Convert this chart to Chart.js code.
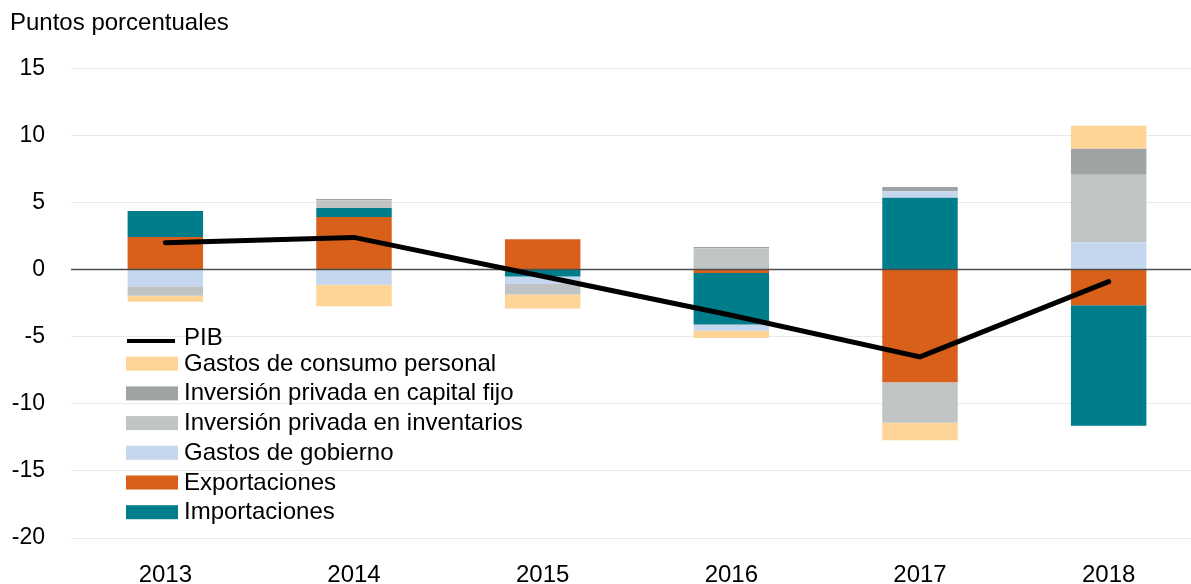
<!DOCTYPE html>
<html>
<head>
<meta charset="utf-8">
<script src="https://cdn.jsdelivr.net/npm/chart.js@4.4.1/dist/chart.umd.min.js"></script>
<style>
    html, body { margin: 0; padding: 0; background: #fff; overflow: hidden; }
    #wrap { width: 1204px; height: 584px; }
</style>
</head>
<body>
<div id="wrap"><canvas id="contrib-chart" width="1204" height="584"></canvas></div>

<script>
    // data (puntos porcentuales)
    const years = ['2013', '2014', '2015', '2016', '2017', '2018'];
    const exportaciones = [2.43, 3.92, 2.26, -0.25, -8.39, -2.66];
    const importaciones = [1.94, 0.67, -0.52, -3.85, 5.36, -8.98];
    const gobierno = [-1.24, -1.12, -0.55, -0.45, 0.47, 2.03];
    const inventarios = [-0.70, 0.57, -0.79, 1.60, -3.03, 5.04];
    const capital_fijo = [0, 0.10, 0, 0.08, 0.33, 1.94];
    const consumo = [-0.46, -1.61, -1.04, -0.55, -1.29, 1.71];
    const pib = [2.0, 2.4, -0.5, -3.4, -6.5, -0.9];
    const y_ticks = [15, 10, 5, 0, -5, -10, -15, -20];

    const font_family = '"Liberation Sans", Arial, sans-serif';

    function bar_set(label, data, color) {
        return {
            type: 'bar',
            label: label,
            data: data,
            backgroundColor: color,
            borderWidth: 0,
            barPercentage: 0.4,
            categoryPercentage: 1.0,
            order: 1
        };
    }

    // stacking order (closest to zero first)
    const datasets = [
        bar_set('Exportaciones', exportaciones, '#D9601A'),
        bar_set('Importaciones', importaciones, '#007D8A'),
        bar_set('Gastos de gobierno', gobierno, '#C4D7EE'),
        bar_set('Inversión privada en inventarios', inventarios, '#C1C4C4'),
        bar_set('Inversión privada en capital fijo', capital_fijo, '#A0A3A4'),
        bar_set('Gastos de consumo personal', consumo, '#FED597'),
        {
            type: 'line',
            label: 'PIB',
            data: pib,
            borderColor: '#000000',
            borderWidth: 5,
            borderCapStyle: 'round',
            pointRadius: 0,
            tension: 0,
            fill: false,
            stack: 'pib',
            order: 0
        }
    ];

    // legend order as in the reference
    const legend_order = [6, 5, 4, 3, 2, 0, 1];

    // zero line drawn over the bars, under the PIB line
    const zero_line = {
        id: 'zero_line',
        beforeDatasetDraw(chart, args) {
            if (args.meta.type !== 'line') return;
            const ctx = chart.ctx;
            const y = chart.scales.y.getPixelForValue(0);
            ctx.save();
            ctx.strokeStyle = '#4d4d4d';
            ctx.lineWidth = 1.5;
            ctx.beginPath();
            ctx.moveTo(chart.chartArea.left, y);
            ctx.lineTo(chart.chartArea.right, y);
            ctx.stroke();
            ctx.restore();
        }
    };

    // legend drawn inside the plot, bottom left
    const inner_legend = {
        id: 'inner_legend',
        afterDraw(chart) {
            const ctx = chart.ctx;
            ctx.save();
            ctx.font = '24px ' + font_family;
            ctx.textBaseline = 'alphabetic';
            ctx.textAlign = 'left';
            legend_order.forEach((idx, i) => {
                const ds = chart.data.datasets[idx];
                const base = i === 0 ? 345 : 370.7 + (i - 1) * 29.7;
                if (ds.type === 'line') {
                    ctx.strokeStyle = ds.borderColor;
                    ctx.lineWidth = 4;
                    ctx.beginPath();
                    ctx.moveTo(127, base - 4);
                    ctx.lineTo(175, base - 4);
                    ctx.stroke();
                } else {
                    ctx.fillStyle = ds.backgroundColor;
                    ctx.fillRect(126, base - 14, 52, 14);
                }
                ctx.fillStyle = '#000000';
                ctx.fillText(ds.label, 184, base);
            });
            ctx.restore();
        }
    };

    new Chart(document.getElementById('contrib-chart'), {
        data: {
            labels: years,
            datasets: datasets
        },
        options: {
            responsive: false,
            animation: false,
            layout: {
                padding: { left: 10, right: 1, top: 0, bottom: 0 }
            },
            plugins: {
                legend: { display: false },
                tooltip: { enabled: false },
                title: {
                    display: true,
                    text: 'Puntos porcentuales',
                    align: 'start',
                    color: '#000000',
                    font: { family: font_family, size: 24, weight: 'normal' },
                    padding: { top: 8.5, bottom: 31 }
                }
            },
            scales: {
                x: {
                    stacked: true,
                    grid: { display: false },
                    border: { display: false },
                    ticks: {
                        color: '#000000',
                        padding: 15,
                        font: { family: font_family, size: 24 }
                    },
                    afterFit: (scale) => { scale.height = 46; }
                },
                y: {
                    stacked: true,
                    min: -20,
                    max: 15,
                    afterBuildTicks: (scale) => {
                        scale.ticks = y_ticks.map(v => ({ value: v }));
                    },
                    grid: {
                        color: '#E9E9E9',
                        lineWidth: 1,
                        drawTicks: false
                    },
                    border: { display: false },
                    ticks: {
                        color: '#000000',
                        padding: 26,
                        font: { family: font_family, size: 23 }
                    },
                    afterFit: (scale) => { scale.width = 61; }
                }
            }
        },
        plugins: [zero_line, inner_legend]
    });
</script>
</body>
</html>
